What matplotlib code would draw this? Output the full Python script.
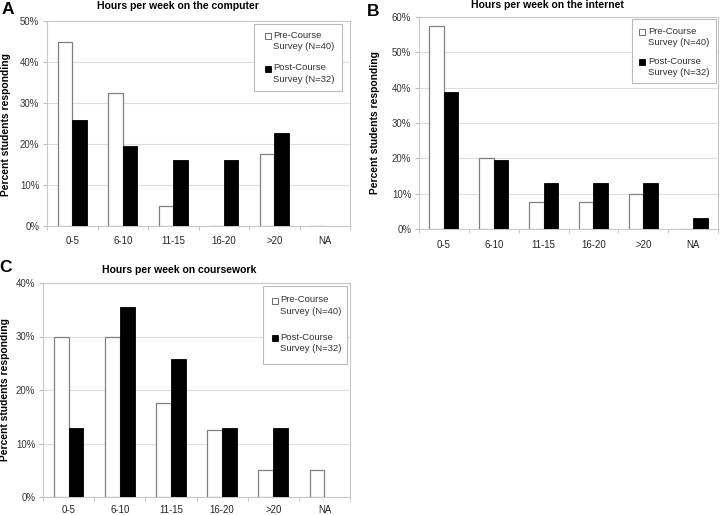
import matplotlib
matplotlib.use("Agg")
from matplotlib import pyplot as plt
from matplotlib.patches import Rectangle
import numpy as np

plt.rcParams['font.family'] = ['Liberation Sans', 'DejaVu Sans']

categories = ["0-5", "6-10", "11-15", "16-20", ">20", "NA"]

# Panel A - computer
comp_pre = [45, 32.5, 5, 0, 17.5, 0]
comp_post = [25.8, 19.4, 16.1, 16.1, 22.6, 0]
# Panel B - internet
net_pre = [57.5, 20, 7.5, 7.5, 10, 0]
net_post = [38.7, 19.4, 12.9, 12.9, 12.9, 3.2]
# Panel C - coursework
cw_pre = [30, 30, 17.5, 12.5, 5, 5]
cw_post = [12.9, 35.5, 25.8, 12.9, 12.9, 0]

pre_label = "Pre-Course\nSurvey (N=40)"
post_label = "Post-Course\nSurvey (N=32)"

W, H = 720, 515
fig = plt.figure(figsize=(7.2, 5.15), dpi=100)


def fx(x):
    return x / W


def fy(y):
    return 1 - y / H


def px_axes(left, right, top, bottom):
    return fig.add_axes([fx(left), fy(bottom), (right - left) / W, (bottom - top) / H])


def legend_box(box, lines, mk, tx):
    # hand-made legend: square marker sits on the first text line
    l, t, r, b = box
    fig.patches.append(Rectangle((fx(l), fy(b)), (r - l) / W, (b - t) / H,
                                 transform=fig.transFigure, facecolor="white",
                                 edgecolor="#bbbbbb", linewidth=0.8, zorder=5))
    for y, fc, ec, lab in [(lines[0], "white", "#555555", pre_label),
                           (lines[1], "black", "black", post_label)]:
        fig.patches.append(Rectangle((fx(l + mk), fy(y + 3)), 6 / W, 6 / H,
                                     transform=fig.transFigure, facecolor=fc,
                                     edgecolor=ec, linewidth=0.6, zorder=6))
        fig.text(fx(l + tx), fy(y - 5.5), lab, fontsize=6.8, color="#333333",
                 va="top", ha="left", linespacing=1.35, zorder=6)


def panel(ax, pre, post, ymax, xpad):
    x = np.arange(len(categories))
    bw = 0.29
    ax.bar(x - bw / 2, pre, bw, color="white", edgecolor="#808080", linewidth=0.9, zorder=3)
    ax.bar(x + bw / 2, post, bw, color="black", edgecolor="black", linewidth=0.6, zorder=3)
    ax.set_xlim(-0.5, len(categories) - 0.5)
    ax.set_ylim(0, ymax)
    ticks = np.arange(0, ymax + 1, 10)
    ax.set_yticks(ticks)
    ax.set_yticklabels(["%d%%" % t for t in ticks])
    ax.set_xticks(x)
    ax.set_xticklabels(categories)
    ax.set_xticks(np.arange(-0.5, len(categories)), minor=True)
    ax.tick_params(axis="x", which="major", length=0, labelsize=6.9, colors="#222222", pad=xpad)
    ax.tick_params(axis="x", which="minor", length=3, color="#bbbbbb")
    ax.tick_params(axis="y", length=3, color="#bbbbbb", labelsize=6.9, colors="#333333", pad=2.5)
    ax.yaxis.grid(True, color="#dddddd", linewidth=0.8, zorder=0)
    for s in ax.spines.values():
        s.set_color("#c8c8c8")
        s.set_linewidth(0.8)


def labels(title, tpos, letter, lpos, ylx, ylc):
    fig.text(fx(tpos[0]), fy(tpos[1]), title, fontsize=7.5, fontweight="bold",
             ha="center", va="center")
    fig.text(fx(lpos[0]), fy(lpos[1]), letter, fontsize=12.5, fontweight="bold",
             ha="center", va="center")
    fig.text(fx(ylx), fy(ylc), "Percent students responding", fontsize=7.4,
             fontweight="bold", rotation=90, ha="center", va="center")


axA = px_axes(47, 350, 21, 226)
panel(axA, comp_pre, comp_post, 50, 7)
labels("Hours per week on the computer", (178, 6), "A", (8, 9), 6, 125)
legend_box((254, 24, 342, 91), (36, 69), 11, 19)

axB = px_axes(419, 718, 17, 229)
panel(axB, net_pre, net_post, 60, 8)
labels("Hours per week on the internet", (547, 5), "B", (373, 11), 375, 123)
legend_box((632, 19, 716, 83), (32, 62), 7, 16)

axC = px_axes(43, 350, 283, 497)
panel(axC, cw_pre, cw_post, 40, 6)
labels("Hours per week on coursework", (179, 270), "C", (6, 268), 5, 390)
legend_box((263, 286, 347, 364), (301, 338), 9, 17)

fig.savefig("out.png", dpi=100)
